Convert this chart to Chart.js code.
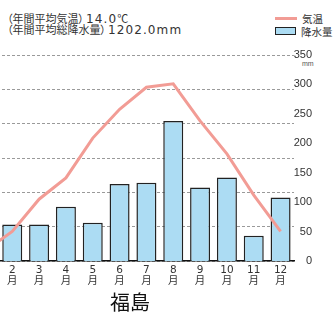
<!DOCTYPE html>
<html>
<head>
<meta charset="utf-8">
<script src="https://cdn.jsdelivr.net/npm/chart.js@4"></script>
<style>
  body { margin: 0; width: 334px; height: 313px; overflow: hidden; background: #fff; position: relative;
         font-family: "Noto Sans CJK JP", "Noto Sans", sans-serif; color: #333; }
  #wrap { position: absolute; left: -40px; top: 0; width: 352px; height: 300px; }
  .head { position: absolute; left: 7px; font-size: 11px; line-height: 13px; height: 13px; white-space: nowrap;
          font-feature-settings: "palt"; }
  .head .num { font-family: "DejaVu Sans", sans-serif; font-size: 12px; letter-spacing: 1.1px; margin-left: 2px; }
  .head .cjk { font-family: "Noto Sans CJK JP", sans-serif; font-size: 11px; }
  #head1 { top: 12px; }
  #head2 { top: 23px; }
  #legend { position: absolute; left: 275px; top: 12px; font-size: 10.5px; }
  .item { display: flex; align-items: center; height: 12px; white-space: nowrap; }
  .item span { margin-left: 5px; }
  #unit { position: absolute; left: 302px; top: 60px; font-size: 7px; line-height: 7px; font-family: "Liberation Sans", sans-serif; color: #555; }
  #place { position: absolute; left: 110px; top: 292px; font-size: 20px; line-height: 20px; color: #111; }
</style>
</head>
<body>
<div class="head" id="head1">（年間平均気温）<span class="num">14.0</span><span class="cjk">℃</span></div>
<div class="head" id="head2">（年間平均総降水量）<span class="num">1202.0mm</span></div>
<div id="legend"></div>
<div id="unit">mm</div>
<div id="wrap"><canvas id="climateChart" width="352" height="300"></canvas></div>
<div id="place">福島</div>
<script>
// months 1..12 (January sits just off the left edge like in the original)
const months = ['1', '2', '3', '4', '5', '6', '7', '8', '9', '10', '11', '12'];
const temperature = [1.5, 4.3, 9.0, 12.1, 17.9, 22.1, 25.3, 25.8, 20.4, 15.6, 9.6, 4.3];
const precipitation = [50, 62, 62, 92, 65, 131, 133, 238, 125, 142, 43, 108];
const tempTicks = [0, 30, 5];      // min, max, step
const rainTicks = [0, 350, 50];

const ctx = document.getElementById('climateChart').getContext('2d');
const chart = new Chart(ctx, {
  data: {
    labels: months.map(m => [m, '月']),
    datasets: [{
      type: 'line',
      label: '気温',
      data: temperature,
      yAxisID: 'temp',
      borderColor: '#f29c95',
      backgroundColor: '#f29c95',
      borderWidth: 3,
      pointRadius: 0,
      tension: 0,
      order: 0
    }, {
      type: 'bar',
      label: '降水量',
      data: precipitation,
      yAxisID: 'rain',
      backgroundColor: '#acdcf3',
      borderColor: '#222',
      borderWidth: 1.5,
      barPercentage: 0.745,
      categoryPercentage: 1,
      order: 1
    }]
  },
  options: {
    responsive: false,
    animation: false,
    layout: { padding: { left: 12, top: 55, right: 0, bottom: 0 } },
    plugins: {
      legend: { display: false },
      tooltip: { enabled: false }
    },
    scales: {
      x: {
        grid: { display: false, drawTicks: false },
        border: { color: '#111', width: 1.5 },
        ticks: {
          autoSkip: false,
          maxRotation: 0,
          padding: 4,
          color: '#333',
          font: { family: '"DejaVu Sans", "Noto Sans CJK JP", sans-serif', size: 10.5, lineHeight: 1.05 }
        },
        afterFit: s => { s.height = 39; }
      },
      temp: {
        position: 'left',
        min: tempTicks[0],
        max: tempTicks[1],
        ticks: { display: false, stepSize: tempTicks[2] },
        grid: { color: '#9a9a9a', lineWidth: 1, drawTicks: false },
        border: { display: false, dash: [3, 2] },
        afterFit: s => { s.width = 0; }
      },
      rain: {
        position: 'right',
        min: rainTicks[0],
        max: rainTicks[1],
        grid: { display: false, drawTicks: false },
        border: { display: false },
        ticks: {
          stepSize: rainTicks[2],
          crossAlign: 'far',
          color: '#333',
          font: { family: '"Liberation Sans", sans-serif', size: 11 }
        },
        afterFit: s => { s.width = 18; }
      }
    }
  }
});

// legend built from the chart datasets
const legend = document.getElementById('legend');
chart.data.datasets.forEach(ds => {
  const item = document.createElement('div');
  item.className = 'item';
  const key = document.createElement('div');
  if (ds.type === 'line') {
    key.style.cssText = `width:22px;height:3px;background:${ds.borderColor};`;
    item.style.height = '13px';
  } else {
    key.style.cssText = `width:19px;height:6px;background:${ds.backgroundColor};border:1.5px solid ${ds.borderColor};`;
  }
  const txt = document.createElement('span');
  txt.textContent = ds.label;
  item.appendChild(key);
  item.appendChild(txt);
  legend.appendChild(item);
});
</script>
</body>
</html>
